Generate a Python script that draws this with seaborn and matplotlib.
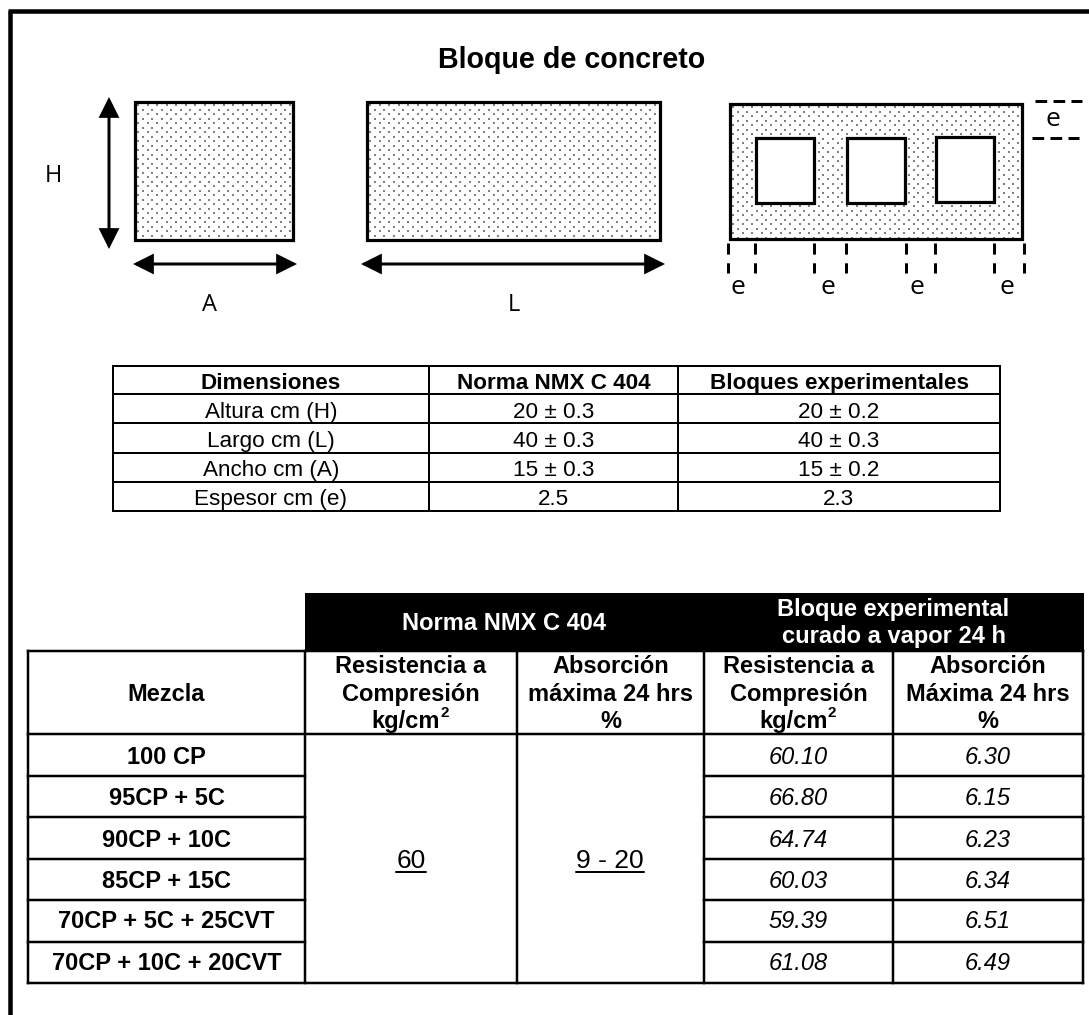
import matplotlib
matplotlib.use('Agg')
import matplotlib.pyplot as plt
from matplotlib.patches import Rectangle, FancyArrowPatch
import numpy as np
import pandas as pd
import seaborn as sns

sns.set_theme(style='white')
plt.rcParams['font.family'] = ['Liberation Sans', 'DejaVu Sans']

# Dimensions table
dim_header = ['Dimensiones', 'Norma NMX C 404', 'Bloques experimentales']
dim_names = ['Altura cm (H)', 'Largo cm (L)', 'Ancho cm (A)', 'Espesor cm (e)']
dim_norma = ['20 ± 0.3', '40 ± 0.3', '15 ± 0.3', '2.5']
dim_bloques = ['20 ± 0.2', '40 ± 0.3', '15 ± 0.2', '2.3']

# Results table
mezclas = ['100 CP', '95CP + 5C', '90CP + 10C', '85CP + 15C',
           '70CP + 5C + 25CVT', '70CP + 10C + 20CVT']
resistencia = [60.10, 66.80, 64.74, 60.03, 59.39, 61.08]
absorcion = [6.30, 6.15, 6.23, 6.34, 6.51, 6.49]
norma_resistencia = '60'
norma_absorcion = '9 - 20'

# Table grid lines and text baselines, in pixels
dim_x = [113, 429, 678, 1000]
dim_y = [366, 394, 423, 453, 482, 511]
dim_base = [389, 418, 447, 476, 505]
res_x = [28, 305, 517, 704, 893, 1083]
res_y = [651, 734, 776, 817, 859, 900, 942, 983]
res_base = [764, 805, 847, 888, 928, 970]


def px(w):
    return w * 0.72


def stipple(ax, x0, y0, x1, y1):
    # grey dots in staggered rows
    rows = np.arange(y0 + 5, y1 - 1, 4.5)
    xs, ys = [], []
    for i, y in enumerate(rows):
        row_x = np.arange(x0 + 5 + (i % 2) * 4.75, x1 - 2, 9.5)
        xs.extend(row_x)
        ys.extend([y] * len(row_x))
    dots = pd.DataFrame({'x': xs, 'y': ys})
    sns.scatterplot(data=dots, x='x', y='y', ax=ax, marker='s', s=2.0,
                    color='#808080', linewidth=0, legend=False, zorder=1)


def box(ax, x0, y0, x1, y1, lw=3.2, fc='none', z=3):
    # x0..y1 are the outer edges of the outline
    ax.add_patch(Rectangle((x0 + lw / 2, y0 + lw / 2), x1 - x0 - lw, y1 - y0 - lw, fc=fc,
                           ec='black', lw=px(lw), zorder=z, joinstyle='miter'))


def arrow(ax, a, b):
    ax.add_patch(FancyArrowPatch(a, b, arrowstyle='<|-|>,head_length=16,head_width=8',
                                 mutation_scale=0.72, lw=px(3), color='black',
                                 shrinkA=0, shrinkB=0, zorder=3, joinstyle='miter',
                                 capstyle='butt'))


def grid_line(ax, xs, ys, lw):
    ax.plot(xs, ys, color='black', lw=px(lw), solid_capstyle='projecting', zorder=4)


def put(ax, x, y, s, size, **kw):
    kw.setdefault('ha', 'center')
    kw.setdefault('color', 'black')
    ax.text(x, y, s, fontsize=size, va='baseline', zorder=5, **kw)


fig = plt.figure(figsize=(10.89, 10.15), dpi=100)
ax = fig.add_axes([0, 0, 1, 1])
ax.set_xlim(0, 1089)
ax.set_ylim(1015, 0)
ax.axis('off')

# Outer frame (top and left only)
ax.plot([10, 10], [1015, 11], color='black', lw=px(4.5), solid_capstyle='butt')
ax.plot([8, 1089], [11, 11], color='black', lw=px(4.5), solid_capstyle='butt')

put(ax, 572, 68, 'Bloque de concreto', 20.6, fontweight='bold')

# Block drawings
stipple(ax, 133, 100, 295, 242)
box(ax, 133, 100, 295, 242)
stipple(ax, 365, 100, 662, 242)
box(ax, 365, 100, 662, 242)
stipple(ax, 728, 102, 1024, 241)
box(ax, 728, 102, 1024, 241)
box(ax, 754, 136, 816, 205, fc='white')
box(ax, 845, 136, 907, 205, fc='white')
box(ax, 934, 135, 996, 204, fc='white')

arrow(ax, (109, 97), (109, 249))
arrow(ax, (133, 264), (297, 264))
arrow(ax, (361, 264), (665, 264))

label_font = ['Open Sans', 'DejaVu Sans']
put(ax, 53, 182, 'H', 17, family=label_font)
put(ax, 210, 311, 'A', 17, family=label_font)
put(ax, 514, 311, 'L', 17, family=label_font)

# Dashed guides for the wall thickness
for x in [728, 755, 814, 846, 906, 935, 994, 1024]:
    ax.plot([x, x], [243, 273], color='black', lw=px(3), dashes=(3.7, 2.9))
ax.plot([1035, 1082], [101, 101], color='black', lw=px(3), dashes=(3.9, 2.1))
ax.plot([1032, 1079], [138, 138], color='black', lw=px(3), dashes=(3.9, 2.1))
put(ax, 1053, 126, 'e', 19, family=label_font)
for x in [738, 828, 917, 1007]:
    put(ax, x, 294, 'e', 19, family=label_font)

# Dimensions table
for y in dim_y:
    grid_line(ax, [dim_x[0], dim_x[-1]], [y, y], 2)
for x in dim_x:
    grid_line(ax, [x, x], [dim_y[0], dim_y[-1]], 2)
for c, head in enumerate(dim_header):
    put(ax, (dim_x[c] + dim_x[c + 1]) / 2, dim_base[0], head, 16.2, fontweight='bold')
for r in range(len(dim_names)):
    for c, col in enumerate([dim_names, dim_norma, dim_bloques]):
        put(ax, (dim_x[c] + dim_x[c + 1]) / 2, dim_base[r + 1], col[r], 16.2)

# Results table: black header band
ax.add_patch(Rectangle((res_x[1], 593), res_x[-1] - res_x[1] + 1, res_y[0] - 593, fc='black',
                       ec='none', zorder=2))
put(ax, (res_x[1] + res_x[3]) / 2, 630, 'Norma NMX C 404', 17, fontweight='bold', color='white')
put(ax, (res_x[3] + res_x[5]) / 2, 616, 'Bloque experimental', 17, fontweight='bold', color='white')
put(ax, (res_x[3] + res_x[5]) / 2, 643, 'curado a vapor 24 h', 17, fontweight='bold', color='white')

# Results table: lines (norm columns are merged over the data rows)
for i, y in enumerate(res_y):
    if i in (0, 1, 7):
        grid_line(ax, [res_x[0], res_x[-1]], [y, y], 2.5)
    else:
        grid_line(ax, [res_x[0], res_x[1]], [y, y], 2.5)
        grid_line(ax, [res_x[3], res_x[-1]], [y, y], 2.5)
for x in res_x:
    grid_line(ax, [x, x], [res_y[0], res_y[-1]], 2.5)

# Results table: column headings
head_cols = [(res_x[1], res_x[2], ['Resistencia a', 'Compresión']),
             (res_x[2], res_x[3], ['Absorción', 'máxima 24 hrs', '%']),
             (res_x[3], res_x[4], ['Resistencia a', 'Compresión']),
             (res_x[4], res_x[5], ['Absorción', 'Máxima 24 hrs', '%'])]
put(ax, (res_x[0] + res_x[1]) / 2, 701, 'Mezcla', 17, fontweight='bold')
for x0, x1, lines in head_cols:
    xc = (x0 + x1) / 2
    for line, y in zip(lines, [673, 701, 728]):
        put(ax, xc, y, line, 17, fontweight='bold')
    if len(lines) == 2:
        put(ax, xc - 39.5, 728, 'kg/cm', 17, fontweight='bold', ha='left')
        put(ax, xc + 29.5, 717, '2', 11, fontweight='bold', ha='left')

# Results table: data rows
for r, name in enumerate(mezclas):
    put(ax, (res_x[0] + res_x[1]) / 2, res_base[r], name, 17, fontweight='bold')
    put(ax, (res_x[3] + res_x[4]) / 2, res_base[r], f'{resistencia[r]:.2f}', 17, style='italic')
    put(ax, (res_x[4] + res_x[5]) / 2, res_base[r], f'{absorcion[r]:.2f}', 17, style='italic')

# Merged norm values, underlined
put(ax, 411, 868, norma_resistencia, 19)
ax.plot([396, 426], [872, 872], color='black', lw=px(2))
put(ax, 610, 868, norma_absorcion, 19)
ax.plot([576, 644], [872, 872], color='black', lw=px(2))

fig.savefig('out.png', dpi=100, facecolor='white')
